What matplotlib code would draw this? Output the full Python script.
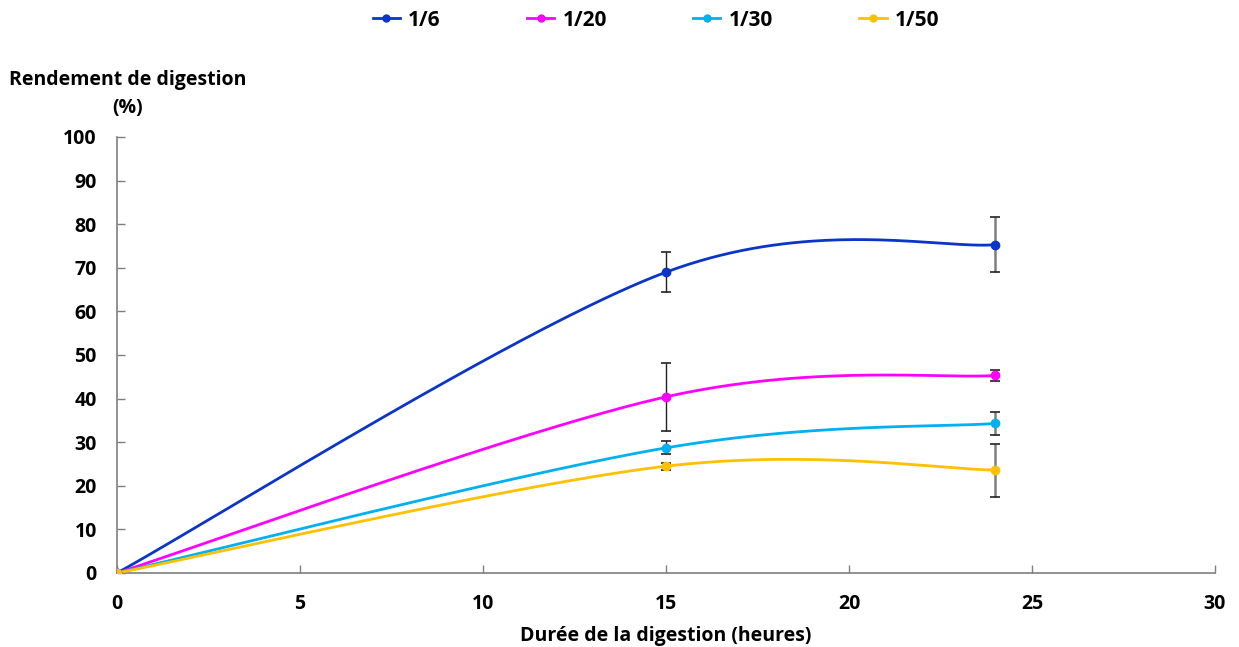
import numpy as np
import matplotlib
matplotlib.use("Agg")
import matplotlib.pyplot as plt
from matplotlib.lines import Line2D

plt.rcParams['font.family'] = ['Open Sans', 'DejaVu Sans']
plt.rcParams['font.weight'] = 'bold'

# ---- data ----
hours = [0, 15, 24]
series_names = ["1/6", "1/20", "1/30", "1/50"]
yield_1_6 = [0, 69.0, 75.3]
yield_1_20 = [0, 40.4, 45.3]
yield_1_30 = [0, 28.7, 34.3]
yield_1_50 = [0, 24.5, 23.6]
err_1_6 = [0, 4.6, 6.3]
err_1_20 = [0, 7.8, 1.3]
err_1_30 = [0, 1.5, 2.7]
err_1_50 = [0, 0.8, 6.1]
colors = ["#0A35C8", "#FF00FF", "#00B0F0", "#FFC000"]

x_ticks = [0, 5, 10, 15, 20, 25, 30]
y_ticks = [0, 10, 20, 30, 40, 50, 60, 70, 80, 90, 100]


def excel_smooth(x, y, n=80):
    pts = np.column_stack([x, y]).astype(float)
    P = np.vstack([pts[0], pts, pts[-1]])
    out = [pts[:1]]
    t = np.linspace(0, 1, n)[1:, None]
    for i in range(len(pts) - 1):
        p0, p1, p2, p3 = P[i], P[i + 1], P[i + 2], P[i + 3]
        c1 = p1 + (p2 - p0) / 6
        c2 = p2 - (p3 - p1) / 6
        seg = ((1 - t) ** 3) * p1 + 3 * ((1 - t) ** 2) * t * c1 + 3 * (1 - t) * t ** 2 * c2 + t ** 3 * p2
        out.append(seg)
    arr = np.vstack(out)
    return arr[:, 0], arr[:, 1]


FS = 14
LFS = 15

fig = plt.figure(figsize=(12.39, 6.47), dpi=100)
ax = fig.add_axes([117 / 1239, 1 - 573 / 647, (1215 - 117) / 1239, (573 - 137) / 647])

all_y = [yield_1_6, yield_1_20, yield_1_30, yield_1_50]
all_e = [err_1_6, err_1_20, err_1_30, err_1_50]
handles = []
for name, ys, es, c in zip(series_names, all_y, all_e, colors):
    sx, sy = excel_smooth(hours, ys)
    ax.plot(sx, sy, color=c, lw=2.0, zorder=3, solid_capstyle='round')
    for xi, yi, ei in zip(hours, ys, es):
        if ei <= 0:
            continue
        stem_c = "#222222" if xi < 20 else "#7F7F7F"
        stem_w = 1.0 if xi < 20 else 1.8
        ax.errorbar([xi], [yi], yerr=[ei], fmt='none', ecolor=stem_c, elinewidth=stem_w,
                    capsize=0, zorder=2)
        ax.errorbar([xi], [yi], yerr=[ei], fmt='none', ecolor="#222222", elinewidth=0,
                    capsize=3.5, capthick=1.2, zorder=2)
    ax.plot(hours, ys, 'o', color=c, ms=6, zorder=4)
    handles.append(Line2D([0], [0], color=c, lw=2.0, marker='o', ms=5, label=name))

ax.set_xlim(0, 30)
ax.set_ylim(0, 100)
ax.set_xticks(x_ticks)
ax.set_yticks(y_ticks)
ax.set_xticklabels([str(v) for v in x_ticks], fontsize=FS, fontweight='bold')
ax.set_yticklabels([str(v) for v in y_ticks], fontsize=FS, fontweight='bold')
ax.tick_params(axis='both', direction='in', length=6, width=1, color='#7F7F7F')
ax.tick_params(axis='x', pad=15)
ax.tick_params(axis='y', pad=14.5)
for s in ['top', 'right']:
    ax.spines[s].set_visible(False)
for s in ['left', 'bottom']:
    ax.spines[s].set_color('#7F7F7F')
    ax.spines[s].set_linewidth(1.2)
ax.set_xlabel("Durée de la digestion (heures)", fontsize=FS, fontweight='bold', labelpad=9)
for sp in ax.spines.values():
    sp.set_zorder(1)

fig.text(128 / 1239, 1 - 94 / 647, "Rendement de digestion\n(%)", ha='center', va='center',
         fontsize=FS, fontweight='bold', linespacing=1.6)

fig.legend(handles=handles, loc='center', bbox_to_anchor=(656 / 1239, 1 - 20 / 647), ncol=4,
           frameon=False, prop={'weight': 'bold', 'size': LFS}, columnspacing=4.15,
           handlelength=1.3, handletextpad=0.4)

fig.savefig("out.png", dpi=100)
